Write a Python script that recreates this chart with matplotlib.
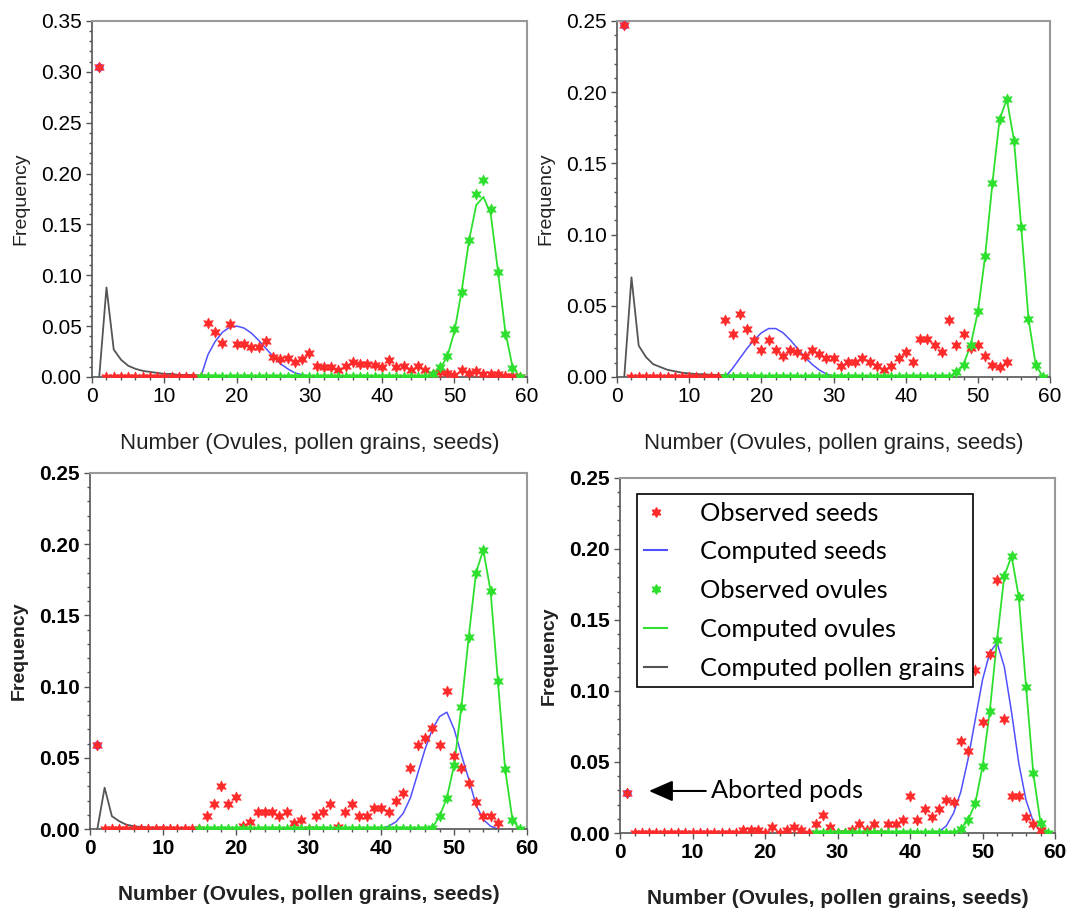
import numpy as np
import matplotlib.pyplot as plt
from matplotlib.lines import Line2D
from matplotlib.ticker import MultipleLocator, FormatStrFormatter

plt.rcParams['font.family'] = ['Liberation Sans', 'Arimo', 'DejaVu Sans']

# ---------- panel 1 (top left) ----------
p1_seed_x = list(range(1, 60))
p1_seed_obs = [0.305, 0, 0, 0, 0, 0, 0, 0, 0, 0, 0, 0, 0, 0, 0,
               0.053, 0.044, 0.033, 0.052, 0.032, 0.032, 0.029, 0.029, 0.035, 0.020,
               0.018, 0.019, 0.015, 0.018, 0.024, 0.011, 0.010, 0.010, 0.007, 0.011,
               0.015, 0.013, 0.013, 0.012, 0.010, 0.017, 0.010, 0.011, 0.007, 0.011,
               0.007, 0.003, 0.005, 0.004, 0.002, 0.007, 0.004, 0.006, 0.003, 0.003,
               0.003, 0.001, 0.001, 0]
p1_ov_x = list(range(15, 60))
p1_ov_obs = [0, 0, 0, 0, 0, 0, 0, 0, 0, 0, 0, 0, 0, 0, 0, 0, 0, 0, 0, 0,
             0, 0, 0, 0, 0, 0, 0, 0, 0, 0, 0, 0,
             0.003, 0.010, 0.021, 0.047, 0.084, 0.135, 0.180, 0.194, 0.165, 0.103,
             0.042, 0.009, 0]
p1_ov_fit_x = list(range(45, 60))
p1_ov_fit = [0, 0.001, 0.003, 0.008, 0.020, 0.045, 0.085, 0.134, 0.169, 0.177,
             0.160, 0.104, 0.045, 0.010, 0]
p1_sd_fit_x = list(range(15, 32))
p1_sd_fit = [0, 0.022, 0.035, 0.044, 0.049, 0.050, 0.048, 0.043, 0.036, 0.028,
             0.020, 0.013, 0.008, 0.004, 0.002, 0.0006, 0]
p1_pol_x = list(range(1, 22))
p1_pol = [0, 0.088, 0.027, 0.017, 0.011, 0.008, 0.006, 0.005, 0.004, 0.003, 0.003,
          0.002, 0.002, 0.002, 0.001, 0.001, 0.001, 0.001, 0.001, 0.0005, 0]

# ---------- panel 2 (top right) ----------
p2_seed_x = list(range(1, 55))
p2_seed_obs = [0.247, 0, 0, 0, 0, 0, 0, 0, 0, 0, 0, 0, 0, 0,
               0.040, 0.030, 0.044, 0.034, 0.026, 0.019, 0.026, 0.019, 0.0145, 0.019,
               0.0176, 0.0145, 0.019, 0.016, 0.013, 0.013, 0.0075, 0.0105, 0.0105, 0.013,
               0.0105, 0.0075, 0.0047, 0.0075, 0.013, 0.0176, 0.0105, 0.027, 0.027, 0.0227,
               0.0176, 0.040, 0.0227, 0.030, 0.020, 0.0227, 0.0145, 0.0087, 0.007, 0.0105]
p2_ov_x = list(range(15, 60))
p2_ov_obs = [0, 0, 0, 0, 0, 0, 0, 0, 0, 0, 0, 0, 0, 0, 0, 0, 0, 0, 0, 0,
             0, 0, 0, 0, 0, 0, 0, 0, 0, 0, 0, 0,
             0.0035, 0.0087, 0.0227, 0.046, 0.085, 0.136, 0.181, 0.195, 0.166, 0.105,
             0.041, 0.0087, 0]
p2_ov_fit_x = list(range(45, 60))
p2_ov_fit = [0, 0, 0.0035, 0.0087, 0.0227, 0.046, 0.085, 0.136, 0.181, 0.195,
             0.166, 0.105, 0.041, 0.0087, 0]
p2_sd_fit_x = list(range(15, 33))
p2_sd_fit = [0, 0.006, 0.013, 0.020, 0.026, 0.031, 0.034, 0.034, 0.031, 0.026,
             0.020, 0.014, 0.009, 0.005, 0.002, 0.0008, 0.0002, 0]
p2_pol_x = list(range(1, 22))
p2_pol = [0, 0.070, 0.022, 0.014, 0.009, 0.007, 0.005, 0.004, 0.003, 0.0025, 0.002,
          0.002, 0.0015, 0.0015, 0.001, 0.001, 0.001, 0.0008, 0.0006, 0.0004, 0]

# ---------- panel 3 (bottom left) ----------
p3_seed_x = list(range(1, 57))
p3_seed_obs = [0.059, 0, 0, 0, 0, 0, 0, 0, 0, 0, 0, 0, 0, 0, 0,
               0.0094, 0.0176, 0.030, 0.0176, 0.0225, 0.002, 0.0047, 0.012, 0.012, 0.012,
               0.0094, 0.012, 0.0042, 0.0066, 0, 0.0094, 0.012, 0.0176, 0.0014, 0.012,
               0.0176, 0.0094, 0.0094, 0.0145, 0.0145, 0.012, 0.020, 0.025, 0.043, 0.059,
               0.064, 0.071, 0.059, 0.097, 0.051, 0.043, 0.032, 0.019, 0.0094, 0.0094,
               0.0042]
p3_ov_x = list(range(15, 60))
p3_ov_obs = [0, 0, 0, 0, 0, 0, 0, 0, 0, 0, 0, 0, 0, 0, 0, 0, 0, 0, 0, 0,
             0, 0, 0, 0, 0, 0, 0, 0, 0, 0, 0, 0,
             0.001, 0.009, 0.022, 0.045, 0.086, 0.135, 0.180, 0.196, 0.167, 0.104,
             0.042, 0.0066, 0]
p3_ov_fit_x = list(range(45, 60))
p3_ov_fit = [0, 0, 0.001, 0.009, 0.022, 0.045, 0.086, 0.135, 0.180, 0.196,
             0.167, 0.104, 0.042, 0.0066, 0]
p3_sd_fit_x = list(range(39, 57))
p3_sd_fit = [0, 0.0005, 0.002, 0.005, 0.011, 0.022, 0.039, 0.056, 0.070, 0.079,
             0.082, 0.070, 0.052, 0.035, 0.017, 0.0066, 0.002, 0]
p3_pol_x = list(range(1, 14))
p3_pol = [0, 0.029, 0.009, 0.0055, 0.003, 0.002, 0.0015, 0.001, 0.001, 0.001,
          0.0008, 0.0005, 0]

# ---------- panel 4 (bottom right) ----------
p4_seed_x = list(range(1, 59))
p4_seed_obs = [0.028, 0, 0, 0, 0, 0, 0, 0, 0, 0, 0, 0, 0, 0, 0, 0,
               0.002, 0.002, 0.002, 0, 0.004, 0, 0.002, 0.004, 0.002, 0,
               0.006, 0.013, 0.004, 0, 0, 0.002, 0.006, 0.002, 0.006, 0,
               0.006, 0.006, 0.009, 0.026, 0.009, 0.017, 0.011, 0.017, 0.023, 0.022,
               0.065, 0.058, 0.115, 0.078, 0.126, 0.178, 0.080, 0.026, 0.026, 0.011,
               0.006, 0.002]
p4_ov_x = list(range(27, 60))
p4_ov_obs = [0, 0, 0, 0, 0, 0, 0, 0, 0, 0, 0, 0, 0, 0, 0, 0, 0, 0, 0, 0,
             0.003, 0.009, 0.021, 0.047, 0.086, 0.136, 0.181, 0.195, 0.166, 0.103,
             0.042, 0.007, 0]
p4_ov_fit_x = list(range(45, 60))
p4_ov_fit = [0, 0, 0.003, 0.009, 0.021, 0.047, 0.086, 0.136, 0.181, 0.195,
             0.166, 0.103, 0.042, 0.007, 0]
p4_sd_fit_x = list(range(42, 59))
p4_sd_fit = [0, 0.0003, 0.001, 0.005, 0.014, 0.029, 0.052, 0.080, 0.108, 0.127,
             0.134, 0.117, 0.085, 0.049, 0.023, 0.008, 0.001]

legend_labels = ['Observed seeds', 'Computed seeds', 'Observed ovules',
                 'Computed ovules', 'Computed pollen grains']

RED = '#ff2a2a'
GREEN = '#2ee02e'
BLUE = '#5050ff'
GREY = '#555555'
STAR = (6, 1, 0)

fig = plt.figure(figsize=(10.72, 9.13), dpi=100)
positions = [[0.0858, 0.5871, 0.4058, 0.390],
             [0.5756, 0.5871, 0.4040, 0.390],
             [0.0840, 0.0920, 0.4076, 0.390],
             [0.5784, 0.0876, 0.4058, 0.389]]

panels = [
    (p1_seed_x, p1_seed_obs, p1_ov_x, p1_ov_obs, p1_ov_fit_x, p1_ov_fit,
     p1_sd_fit_x, p1_sd_fit, p1_pol_x, p1_pol, 0.35),
    (p2_seed_x, p2_seed_obs, p2_ov_x, p2_ov_obs, p2_ov_fit_x, p2_ov_fit,
     p2_sd_fit_x, p2_sd_fit, p2_pol_x, p2_pol, 0.25),
    (p3_seed_x, p3_seed_obs, p3_ov_x, p3_ov_obs, p3_ov_fit_x, p3_ov_fit,
     p3_sd_fit_x, p3_sd_fit, p3_pol_x, p3_pol, 0.25),
    (p4_seed_x, p4_seed_obs, p4_ov_x, p4_ov_obs, p4_ov_fit_x, p4_ov_fit,
     p4_sd_fit_x, p4_sd_fit, None, None, 0.25),
]

axes = []
for i, (sx, sy, ox, oy, ofx, ofy, fx, fy, px, py, ymax) in enumerate(panels):
    ax = fig.add_axes(positions[i])
    axes.append(ax)
    bold = 'bold' if i >= 2 else 'normal'

    if px is not None:
        ax.plot(px, py, color=GREY, lw=1.3, zorder=2)
    ax.plot(fx, fy, color=BLUE, lw=1.1, zorder=2)
    ax.plot(ofx, ofy, color=GREEN, lw=1.3, zorder=2)
    # aborted pods (x = 1), computed value shown as a blue dot
    ax.plot(sx[0], sy[0], 'o', color=BLUE, ms=5, zorder=3)
    ax.plot(sx, sy, marker=STAR, color=RED, ms=8, mew=0.5, ls='none', zorder=4)
    ax.plot(ox, oy, marker=STAR, color=GREEN, ms=8, mew=0.5, ls='none', zorder=4)

    ax.set_xlim(0, 60)
    ax.set_ylim(0, ymax)
    ax.xaxis.set_major_locator(MultipleLocator(10))
    ax.xaxis.set_minor_locator(MultipleLocator(2))
    ax.yaxis.set_major_locator(MultipleLocator(0.05))
    ax.yaxis.set_minor_locator(MultipleLocator(0.01))
    ax.yaxis.set_major_formatter(FormatStrFormatter('%.2f'))
    ax.tick_params(which='major', direction='out', length=4, width=1, color='#555',
                   labelsize=15, top=False, right=False)
    ax.tick_params(which='minor', direction='out', length=2.5, width=1, color='#555',
                   top=False, right=False)
    for lab in ax.get_xticklabels() + ax.get_yticklabels():
        lab.set_fontweight(bold)
    for s in ['left', 'bottom']:
        ax.spines[s].set_color('#555')
        ax.spines[s].set_linewidth(1.2)
    for s in ['top', 'right']:
        ax.spines[s].set_color('#999')
        ax.spines[s].set_linewidth(1.5)

    ax.set_xlabel('Number (Ovules, pollen grains, seeds)', fontsize=16 if i < 2 else 15,
                  fontweight=bold, labelpad=19, color='#222')
    ax.set_ylabel('Frequency', fontsize=14, fontweight=bold, labelpad=8, color='#222')

# legend and annotation on the last panel
ax4 = axes[3]
handles = [
    Line2D([], [], marker=STAR, color=RED, ls='none', ms=7),
    Line2D([], [], color=BLUE, lw=1.5),
    Line2D([], [], marker=STAR, color=GREEN, ls='none', ms=7),
    Line2D([], [], color=GREEN, lw=1.5),
    Line2D([], [], color=GREY, lw=1.5),
]
leg = fig.legend(handles, legend_labels, loc='upper left',
                 bbox_to_anchor=(0.594, 0.459), bbox_transform=fig.transFigure,
                 prop={'family': 'Lato', 'size': 18.3}, frameon=True, fancybox=False,
                 edgecolor='black', framealpha=1, borderaxespad=0, borderpad=0.3,
                 labelspacing=0.62, handlelength=0.9, handletextpad=1.3)
leg.get_frame().set_linewidth(1.2)

ax4.annotate('Aborted pods', xy=(3.6, 0.0296), xytext=(12.6, 0.0296),
             ha='left', va='center', fontsize=18.3, family='Lato',
             arrowprops=dict(arrowstyle='-|>,head_length=0.8,head_width=0.35',
                             color='black', lw=1.5))

fig.savefig('out.png', dpi=100)
